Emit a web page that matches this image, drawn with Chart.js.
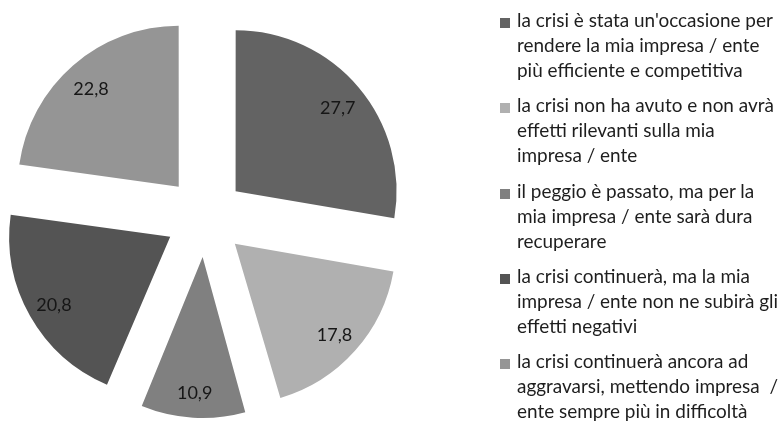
<!DOCTYPE html>
<html>
<head>
<meta charset="utf-8">
<script src="https://cdn.jsdelivr.net/npm/chart.js@4/dist/chart.umd.min.js"></script>
<style>
  html, body { margin: 0; padding: 0; background: #fff; }
  #wrap { position: relative; width: 782px; height: 422px; overflow: hidden; }
  #c { position: absolute; left: 0; top: 0; }
  #legend { position: absolute; left: 500px; top: 0; font-family: Lato, sans-serif; color: #1e1e1e; }
  .item { position: absolute; left: 0; white-space: pre; }
  .sw { position: absolute; left: 0; top: 11px; width: 10px; height: 10px; }
  .tx { position: absolute; left: 17px; top: 0; line-height: 25px; }
</style>
</head>
<body>
<div id="wrap">
  <canvas id="c" width="782" height="422"></canvas>
  <div id="legend"></div>
</div>
<script>
// ---- data ----
const categories = [
  ["la crisi è stata un'occasione per", "rendere la mia impresa / ente", "più efficiente e competitiva"],
  ["la crisi non ha avuto e non avrà", "effetti rilevanti sulla mia", "impresa / ente"],
  ["il peggio è passato, ma per la", "mia impresa / ente sarà dura", "recuperare"],
  ["la crisi continuerà, ma la mia", "impresa / ente non ne subirà gli", "effetti negativi"],
  ["la crisi continuerà ancora ad", "aggravarsi, mettendo impresa  /", "ente sempre più in difficoltà"]
];
const values = [27.7, 17.8, 10.9, 20.8, 22.8];
const colors = ["#636363", "#b0b0b0", "#808080", "#545454", "#959595"];

// ---- geometry / style ----
const RADIUS = 161;
const SHIFT = 40;          // translation of each slice (px)
const OFFSET_OPT = SHIFT * 4;
const LABEL_FRAC = 0.83;
const LABEL_DY = 3;

const fixRadius = {
  id: 'fixRadius',
  afterDatasetsUpdate(chart) {
    const meta = chart.getDatasetMeta(0);
    meta.data.forEach(el => {
      const off = (el.options.offset || 0) / 4;
      const fix = 1 - Math.sin(Math.min(Math.PI, el.circumference || 0));
      el.outerRadius = RADIUS - off * fix;
    });
  }
};

const sliceLabels = {
  id: 'sliceLabels',
  afterDatasetsDraw(chart) {
    const ctx = chart.ctx;
    const meta = chart.getDatasetMeta(0);
    ctx.save();
    ctx.font = '18px Lato, sans-serif';
    ctx.fillStyle = '#161616';
    ctx.textAlign = 'center';
    ctx.textBaseline = 'middle';
    meta.data.forEach((el, i) => {
      const mid = (el.startAngle + el.endAngle) / 2;
      const d = SHIFT + LABEL_FRAC * RADIUS;
      const x = el.x + Math.cos(mid) * d;
      const y = el.y + Math.sin(mid) * d + LABEL_DY;
      ctx.fillText(values[i].toFixed(1).replace('.', ','), x, y);
    });
    ctx.restore();
  }
};

new Chart(document.getElementById('c'), {
  type: 'pie',
  data: {
    labels: categories.map(c => c.join(' ')),
    datasets: [{
      data: values,
      backgroundColor: colors,
      borderWidth: 0,
      offset: OFFSET_OPT,
      hoverOffset: 0,
      radius: RADIUS
    }]
  },
  options: {
    responsive: false,
    animation: false,
    layout: { padding: { left: 0, right: 372, top: 12, bottom: 0 } },
    plugins: { legend: { display: false }, tooltip: { enabled: false } }
  },
  plugins: [fixRadius, sliceLabels]
});

// ---- HTML legend ----
const legend = document.getElementById('legend');
const mctx = document.createElement('canvas').getContext('2d');
mctx.font = '100px Lato';
const fs = 100 * 256 / mctx.measureText(categories[0][0]).width;
categories.forEach((lines, i) => {
  const it = document.createElement('div');
  it.className = 'item';
  it.style.top = (7 + 85.3 * i) + 'px';
  const sw = document.createElement('div');
  sw.className = 'sw';
  sw.style.background = colors[i];
  const tx = document.createElement('div');
  tx.className = 'tx';
  tx.style.fontSize = fs.toFixed(2) + 'px';
  tx.textContent = lines.join('\n');
  it.appendChild(sw); it.appendChild(tx);
  legend.appendChild(it);
});
</script>
</body>
</html>
